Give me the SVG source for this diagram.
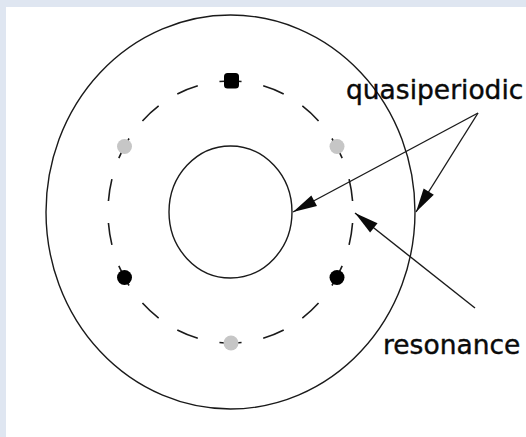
<svg xmlns="http://www.w3.org/2000/svg" width="526" height="437" viewBox="0 0 526 437">
  <style>
    .ln { fill: none; stroke: #1a1a1a; stroke-width: 1.4; }
    .dash { fill: none; stroke: #1a1a1a; stroke-width: 1.6; stroke-dasharray: 5 5; stroke-dashoffset: 2.5; }
    .blk { fill: #000; }
    .gry { fill: #c6c6c6; }
    .lbl { font-family: "DejaVu Sans", "Liberation Sans", sans-serif; font-size: 26.5px; fill: #0a0a0a; stroke: #0a0a0a; stroke-width: 0.4; }
  </style>
  <defs>
    <marker id="ah" markerUnits="userSpaceOnUse" markerWidth="28" markerHeight="16" viewBox="-26 -8 28 16" refX="0" refY="0" orient="auto">
      <path d="M0,0 L-24,-6 L-24,6 z" fill="#0a0a0a"/>
    </marker>
  </defs>
  <rect x="0" y="0" width="526" height="437" fill="#dfe6f1"/>
  <rect x="6" y="7" width="520" height="430" fill="#fff"/>

  <g id="outer-circle">
    <ellipse class="ln" cx="230.5" cy="212" rx="184.5" ry="197"/>
  </g>
  <g id="inner-circle">
    <ellipse class="ln" cx="230.5" cy="212" rx="61.5" ry="66"/>
  </g>
  <g id="resonance-orbit">
    <path class="dash" pathLength="180" d="M230.5,81 A122.5,131 0 0 1 230.5,343 A122.5,131 0 0 1 230.5,81 Z"/>
    <rect class="blk" x="224" y="73" width="15" height="15.5" rx="3.5"/>
    <circle class="gry" cx="337" cy="146.5" r="7.5"/>
    <circle class="blk" cx="337" cy="277.5" r="7.5"/>
    <circle class="gry" cx="231" cy="343" r="7.5"/>
    <circle class="blk" cx="124.5" cy="277.5" r="7.5"/>
    <circle class="gry" cx="124.5" cy="146.5" r="7.5"/>
  </g>

  <g id="connectors">
    <line class="ln" x1="478" y1="113" x2="293" y2="212" marker-end="url(#ah)"/>
    <line class="ln" x1="478" y1="113" x2="416" y2="212" marker-end="url(#ah)"/>
    <line class="ln" x1="475" y1="308" x2="355" y2="213" marker-end="url(#ah)"/>
  </g>

  <g id="label-quasiperiodic">
    <text class="lbl" x="346" y="99">quasiperiodic</text>
  </g>
  <g id="label-resonance">
    <text class="lbl" x="383" y="354">resonance</text>
  </g>
</svg>
